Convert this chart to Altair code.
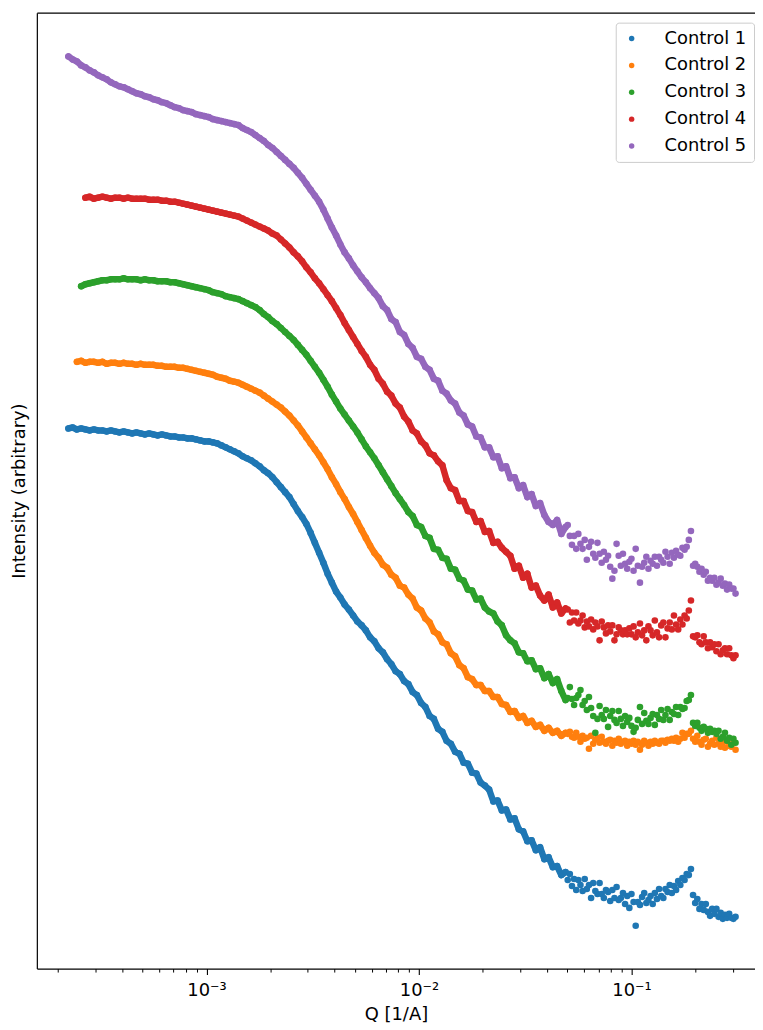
import sys
import altair as alt
import pandas as pd

series_names = ["Control 1", "Control 2", "Control 3", "Control 4", "Control 5"]
series_colors = ["#1f77b4", "#ff7f0e", "#2ca02c", "#d62728", "#9467bd"]

log10_q = [
    -3.65, -3.63, -3.61, -3.59, -3.57, -3.55, -3.53, -3.51, -3.49, -3.47,
    -3.45, -3.43, -3.41, -3.39, -3.37, -3.35, -3.33, -3.31, -3.29, -3.27,
    -3.25, -3.23, -3.21, -3.19, -3.17, -3.15, -3.13, -3.11, -3.09, -3.07,
    -3.05, -3.03, -3.01, -2.99, -2.97, -2.95, -2.93, -2.91, -2.89, -2.87,
    -2.85, -2.83, -2.81, -2.79, -2.77, -2.75, -2.73, -2.71, -2.69, -2.67,
    -2.65, -2.63, -2.61, -2.59, -2.57, -2.55, -2.53, -2.51, -2.49, -2.47,
    -2.45, -2.43, -2.41, -2.39, -2.37, -2.35, -2.33, -2.31, -2.29, -2.27,
    -2.25, -2.23, -2.21, -2.19, -2.17, -2.15, -2.13, -2.11, -2.09, -2.07,
    -2.05, -2.03, -2.01, -1.99, -1.97, -1.95, -1.93, -1.91, -1.89, -1.87,
    -1.85, -1.83, -1.81, -1.79, -1.77, -1.75, -1.73, -1.71, -1.69, -1.67,
    -1.65, -1.63, -1.61, -1.59, -1.57, -1.55, -1.53, -1.51, -1.49, -1.47,
    -1.45, -1.43, -1.41, -1.39, -1.37, -1.35, -1.33, -1.31,
    -1.30, -1.29, -1.28, -1.27, -1.26, -1.25, -1.24, -1.23, -1.22, -1.21,
    -1.20, -1.19, -1.18, -1.17, -1.16, -1.15, -1.14, -1.13, -1.12, -1.11,
    -1.10, -1.09, -1.08, -1.07, -1.06, -1.05, -1.04, -1.03, -1.02, -1.01,
    -1.00, -0.99, -0.98, -0.97, -0.96, -0.95, -0.94, -0.93, -0.92, -0.91,
    -0.90, -0.89, -0.88, -0.87, -0.86, -0.85, -0.84, -0.83, -0.82, -0.81,
    -0.80, -0.79, -0.78, -0.77, -0.76, -0.75, -0.74, -0.73, -0.72, -0.71,
    -0.70, -0.69, -0.68, -0.67, -0.66, -0.65, -0.64, -0.63, -0.62, -0.61,
    -0.60, -0.59, -0.58, -0.57, -0.56, -0.55, -0.54, -0.53, -0.52, -0.51,
]

# index into log10_q where each series begins
series_start = [0, 2, 3, 4, 0]

# log10 of intensity (arbitrary units)
control1_log10_i = [
    5.70, 5.71, 5.69, 5.70, 5.69, 5.68, 5.69, 5.68, 5.68, 5.67,
    5.68, 5.67, 5.66, 5.67, 5.66, 5.65, 5.66, 5.65, 5.64, 5.65,
    5.64, 5.63, 5.64, 5.63, 5.62, 5.62, 5.61, 5.61, 5.60, 5.60,
    5.59, 5.58, 5.57, 5.57, 5.56, 5.55,
    5.53, 5.51, 5.49, 5.47, 5.45, 5.42, 5.40, 5.38, 5.35, 5.32,
    5.28, 5.25, 5.21, 5.16, 5.11, 5.06, 5.01, 4.94, 4.87, 4.81,
    4.74, 4.65, 4.55, 4.45, 4.35, 4.24, 4.15, 4.06, 4.00, 3.93,
    3.88, 3.82, 3.76, 3.72, 3.67, 3.60, 3.56, 3.49, 3.45, 3.38,
    3.33, 3.26, 3.23, 3.16, 3.13, 3.05, 3.02, 2.94, 2.90, 2.81,
    2.78, 2.68, 2.65, 2.56, 2.53, 2.45, 2.43, 2.34, 2.33, 2.24,
    2.23, 2.14, 2.11, 2.07, 1.95, 1.96, 1.86, 1.87, 1.77, 1.78,
    1.67, 1.65, 1.55, 1.56, 1.46, 1.49, 1.37, 1.39, 1.29, 1.30,
    1.21, 1.24,
    1.16, 1.22, 1.10, 1.17, 1.06, 1.16, 1.11, 1.05, 1.17, 1.07,
    1.11, 0.98, 1.13, 1.05, 1.02, 1.13, 1.02, 0.98, 1.06, 1.04,
    0.95, 1.06, 0.98, 1.09, 0.96, 0.98, 1.03, 0.92, 1.00, 0.88,
    1.02, 0.94, 0.70, 0.94, 0.91, 0.99, 1.03, 0.93, 0.96, 1.00,
    0.92, 1.03, 0.97, 1.07, 1.00, 0.98, 1.07, 1.04, 1.11, 1.03,
    1.10, 1.06, 1.15, 1.11, 1.18, 1.16, 1.22, 1.21, 1.27, 1.01,
    0.93, 0.97, 0.87, 0.92, 0.86, 0.92, 0.84, 0.80, 0.87, 0.82,
    0.87, 0.79, 0.83, 0.77, 0.81, 0.78, 0.82, 0.78, 0.77, 0.79,
]

control2_log10_i = [
    6.37, 6.38, 6.36, 6.37, 6.37, 6.36, 6.37, 6.35, 6.36, 6.36,
    6.35, 6.36, 6.35, 6.35, 6.34, 6.35, 6.34, 6.34, 6.34, 6.33,
    6.33, 6.32, 6.32, 6.32, 6.31, 6.31, 6.30, 6.29, 6.28, 6.27,
    6.26, 6.25, 6.24, 6.22, 6.21, 6.20, 6.18, 6.17, 6.16, 6.14,
    6.12, 6.10, 6.08, 6.06, 6.03, 6.00, 5.97, 5.94, 5.91, 5.87,
    5.83, 5.78, 5.73, 5.67, 5.61, 5.55, 5.49, 5.43, 5.36, 5.29,
    5.21, 5.14, 5.06, 4.99, 4.91, 4.84, 4.76, 4.68, 4.60, 4.52,
    4.45, 4.40, 4.33, 4.30, 4.23, 4.20, 4.12, 4.10, 4.03, 3.99,
    3.90, 3.87, 3.79, 3.75, 3.66, 3.63, 3.55, 3.53, 3.44, 3.41,
    3.32, 3.29, 3.20, 3.18, 3.12, 3.12, 3.06, 3.06, 3.00, 3.00,
    2.93, 2.92, 2.85, 2.86, 2.79, 2.81, 2.74, 2.76, 2.70, 2.72,
    2.66, 2.69, 2.64, 2.66, 2.61, 2.64,
    2.63, 2.65, 2.60, 2.59, 2.64, 2.60, 2.55, 2.61, 2.58, 2.59,
    2.48, 2.61, 2.53, 2.57, 2.59, 2.54, 2.60, 2.55, 2.53, 2.56,
    2.57, 2.51, 2.56, 2.54, 2.58, 2.53, 2.55, 2.56, 2.51, 2.55,
    2.53, 2.56, 2.52, 2.55, 2.47, 2.52, 2.56, 2.54, 2.51, 2.55,
    2.53, 2.56, 2.54, 2.53, 2.56, 2.56, 2.54, 2.57, 2.56, 2.58,
    2.56, 2.59, 2.55, 2.58, 2.64, 2.59, 2.63, 2.63, 2.66, 2.58,
    2.55, 2.61, 2.55, 2.52, 2.57, 2.58, 2.50, 2.53, 2.56, 2.52,
    2.59, 2.53, 2.50, 2.54, 2.49, 2.56, 2.51, 2.50, 2.54, 2.47,
]

control3_log10_i = [
    7.13, 7.15, 7.16, 7.17, 7.18, 7.19, 7.19, 7.20, 7.20, 7.20,
    7.21, 7.20, 7.20, 7.20, 7.19, 7.20, 7.19, 7.19, 7.18, 7.18,
    7.18, 7.17, 7.17, 7.16, 7.15, 7.14, 7.13, 7.12, 7.11, 7.10,
    7.09, 7.07, 7.06, 7.05, 7.03, 7.02, 7.01, 7.00, 6.98, 6.96,
    6.94, 6.92, 6.89, 6.85, 6.82, 6.78, 6.75, 6.71, 6.67, 6.63,
    6.59, 6.54, 6.49, 6.44, 6.38, 6.32, 6.26, 6.19, 6.12, 6.04,
    5.97, 5.90, 5.84, 5.78, 5.72, 5.66, 5.59, 5.52, 5.46, 5.40,
    5.33, 5.26, 5.19, 5.12, 5.05, 4.99, 4.93,
    4.86, 4.82, 4.73, 4.71, 4.62, 4.60, 4.49, 4.48, 4.40, 4.39,
    4.29, 4.28, 4.19, 4.17, 4.08, 4.07,
    3.98, 3.99, 3.90, 3.86, 3.84, 3.76, 3.72, 3.62, 3.57, 3.54,
    3.45, 3.44, 3.36, 3.37, 3.28, 3.29, 3.19, 3.23, 3.14, 3.18,
    3.06, 2.97,
    2.99, 3.10, 2.98, 2.92, 2.99, 3.02, 3.07, 2.92, 2.96, 2.87,
    3.00, 2.89, 2.81, 2.64, 2.78, 2.91, 2.82, 2.78, 2.87, 2.70,
    2.81, 2.86, 2.77, 2.74, 2.86, 2.78, 2.71, 2.81, 2.75, 2.79,
    2.71, 2.65, 2.69, 2.77, 2.90, 2.73, 2.84, 2.76, 2.73, 2.79,
    2.83, 2.72, 2.82, 2.78, 2.87, 2.77, 2.82, 2.88, 2.77, 2.85,
    2.83, 2.90, 2.82, 2.90, 2.88, 2.89, 2.96, 2.97, 3.02, 2.74,
    2.71, 2.74, 2.69, 2.66, 2.70, 2.68, 2.64, 2.68, 2.65, 2.66,
    2.63, 2.66, 2.58, 2.60, 2.64, 2.56, 2.59, 2.52, 2.58, 2.54,
]

control4_log10_i = [
    8.02, 8.03, 8.01, 8.02, 8.03, 8.02, 8.01, 8.02, 8.02, 8.01,
    8.02, 8.01, 8.01, 8.01, 8.01, 8.00, 8.00, 8.00, 7.99, 7.99,
    7.98, 7.98, 7.97, 7.96, 7.95, 7.94, 7.93, 7.92, 7.91, 7.90,
    7.89, 7.88, 7.87, 7.86, 7.85, 7.84, 7.83, 7.81, 7.79, 7.77,
    7.75, 7.73, 7.71, 7.69, 7.66, 7.64, 7.60, 7.56, 7.52, 7.47,
    7.43, 7.38, 7.32, 7.27, 7.21, 7.16, 7.10, 7.04, 6.98, 6.91,
    6.84, 6.76, 6.69, 6.62, 6.55, 6.48, 6.42, 6.34, 6.29, 6.20,
    6.15, 6.07, 6.03, 5.95, 5.91, 5.82, 5.77, 5.68, 5.65, 5.57,
    5.53, 5.45, 5.43, 5.37, 5.33, 5.18, 5.10, 5.08, 4.97, 4.97,
    4.87, 4.86, 4.76, 4.77, 4.66, 4.67, 4.55, 4.56, 4.50, 4.46,
    4.42, 4.29, 4.32, 4.20, 4.24, 4.10, 4.12, 4.02, 3.97, 4.03,
    3.90, 3.95, 3.84, 3.89,
    3.88, 3.75, 3.85, 3.77, 3.85, 3.74, 3.77, 3.82, 3.70, 3.76,
    3.71, 3.78, 3.68, 3.75, 3.71, 3.57, 3.76, 3.70, 3.64, 3.72,
    3.66, 3.72, 3.57, 3.63, 3.70, 3.67, 3.63, 3.67, 3.63, 3.69,
    3.63, 3.71, 3.60, 3.65, 3.74, 3.62, 3.67, 3.57, 3.71, 3.67,
    3.62, 3.77, 3.65, 3.60, 3.72, 3.75, 3.60, 3.69, 3.75, 3.68,
    3.82, 3.73, 3.68, 3.78, 3.73, 3.82, 3.79, 3.87, 3.97, 3.61,
    3.60, 3.62, 3.55, 3.53, 3.61, 3.55, 3.49, 3.55, 3.50, 3.53,
    3.46, 3.53, 3.43, 3.47, 3.49, 3.43, 3.49, 3.42, 3.39, 3.42,
]

control5_log10_i = [
    9.44, 9.41, 9.39, 9.35, 9.33, 9.30, 9.28, 9.25, 9.23, 9.21,
    9.18, 9.16, 9.14, 9.13, 9.11, 9.09, 9.07, 9.06, 9.04, 9.03,
    9.01, 9.00, 8.98, 8.97, 8.95, 8.93, 8.92, 8.90, 8.89, 8.88,
    8.86, 8.85, 8.84, 8.83, 8.81, 8.80, 8.79, 8.78, 8.77, 8.76,
    8.75, 8.72, 8.70, 8.68, 8.65, 8.62, 8.59, 8.55, 8.52, 8.48,
    8.44, 8.40, 8.36, 8.32, 8.27, 8.22, 8.16, 8.10, 8.04, 7.98,
    7.90, 7.81, 7.72, 7.64, 7.55, 7.47, 7.41, 7.34, 7.28, 7.22,
    7.17, 7.11, 7.06, 7.01, 6.93, 6.89, 6.80, 6.77, 6.67, 6.64,
    6.55, 6.51, 6.42, 6.40, 6.32, 6.29, 6.20, 6.18, 6.08, 6.05,
    5.98, 5.95, 5.86, 5.83, 5.74, 5.72, 5.62, 5.61, 5.51, 5.51,
    5.41, 5.42, 5.30, 5.32, 5.20, 5.21, 5.10, 5.13, 5.01, 5.04,
    4.92, 4.95, 4.83, 4.76, 4.73, 4.78, 4.64, 4.71,
    4.73, 4.62, 4.53, 4.62, 4.49, 4.64, 4.54, 4.49, 4.58, 4.38,
    4.51, 4.56, 4.44, 4.40, 4.55, 4.44, 4.35, 4.46, 4.38, 4.42,
    4.31, 4.19, 4.27, 4.54, 4.42, 4.32, 4.44, 4.34, 4.29, 4.36,
    4.39, 4.27, 4.49, 4.32, 4.15, 4.31, 4.35, 4.41, 4.29, 4.37,
    4.34, 4.41, 4.32, 4.41, 4.38, 4.35, 4.46, 4.41, 4.34, 4.45,
    4.40, 4.47, 4.43, 4.42, 4.50, 4.48, 4.51, 4.58, 4.67, 4.32,
    4.34, 4.31, 4.26, 4.29, 4.23, 4.26, 4.17, 4.20, 4.17, 4.20,
    4.13, 4.15, 4.19, 4.12, 4.14, 4.08, 4.13, 4.09, 4.09, 4.04,
]

all_series = [control1_log10_i, control2_log10_i, control3_log10_i,
              control4_log10_i, control5_log10_i]

x_major_ticks = [0.001, 0.01, 0.1]
x_minor_ticks = [
    0.0002, 0.0003, 0.0004, 0.0005, 0.0006, 0.0007, 0.0008, 0.0009,
    0.002, 0.003, 0.004, 0.005, 0.006, 0.007, 0.008, 0.009,
    0.02, 0.03, 0.04, 0.05, 0.06, 0.07, 0.08, 0.09,
    0.2, 0.3,
]

rows = []
for name, start, vals in zip(series_names, series_start, all_series):
    qs = log10_q[start:]
    if len(qs) != len(vals):
        print(f"{name}: {len(qs)} q vs {len(vals)} values", file=sys.stderr)
    for lq, li in zip(qs, vals):
        rows.append({"series": name, "q": 10 ** lq, "intensity": 10 ** li})
df = pd.DataFrame(rows)

FONT = "DejaVu Sans"
x_domain = [10 ** -3.7986, 10 ** -0.4185]
y_domain = [10 ** 0.27, 10 ** 9.88]
x_scale = alt.Scale(type="log", domain=x_domain, nice=False)
y_scale = alt.Scale(type="log", domain=y_domain, nice=False)
color_scale = alt.Scale(domain=series_names, range=series_colors)

# thick band underneath the denser low-Q part of each series, so the many
# overlapping points read as one continuous trace (one layer per series)
bands = []
for name, col in zip(series_names, series_colors):
    bands.append(
        alt.Chart(df)
        .transform_filter((alt.datum.series == name) & (alt.datum.q < 0.049))
        .mark_line(color=col, strokeWidth=6.5, strokeCap="round", strokeJoin="round")
        .encode(
            x=alt.X("q:Q", scale=x_scale, axis=None),
            y=alt.Y("intensity:Q", scale=y_scale, axis=None),
        )
    )

points = alt.Chart(df).mark_circle(size=44, opacity=1).encode(
    x=alt.X("q:Q", scale=x_scale, axis=alt.Axis(
        orient="bottom", values=x_major_ticks,
        labelExpr="datum.value < 0.005 ? '10⁻³' : (datum.value < 0.05 ? '10⁻²' : '10⁻¹')",
        tickSize=6, tickWidth=1.1, tickColor="#000000",
        labelFont=FONT, labelFontSize=18, labelColor="#000000", labelPadding=7,
        title="Q [1/A]", titleFont=FONT, titleFontSize=18, titleFontWeight="normal",
        titleColor="#000000", titlePadding=6,
        grid=False, domainColor="#000000", domainWidth=1.2)),
    y=alt.Y("intensity:Q", scale=y_scale,
            axis=alt.Axis(orient="left", title="Intensity (arbitrary)", labels=False,
                          ticks=False, grid=False,
                          domainColor="#000000", domainWidth=1.2, titleFont=FONT,
                          titleFontSize=18, titleFontWeight="normal", titleColor="#000000",
                          titlePadding=8, minExtent=0)),
    color=alt.Color("series:N", scale=color_scale,
                    legend=alt.Legend(title=None, orient="none", legendX=582, legendY=10,
                                      padding=7, strokeColor="#cccccc",
                                      fillColor="rgba(255,255,255,0.8)", cornerRadius=3,
                                      labelFont=FONT, labelFontSize=18, labelColor="#000000",
                                      symbolType="circle", symbolSize=30, symbolOpacity=1,
                                      labelOffset=24, rowPadding=9)),
)

minor = alt.Chart(df).mark_point(opacity=0).encode(
    x=alt.X("q:Q", scale=x_scale, axis=alt.Axis(
        orient="bottom", values=x_minor_ticks, labels=False, tickSize=3.5, tickWidth=1,
        tickColor="#000000", title=None, domain=False, grid=False)),
)

top_spine = alt.Chart(df).mark_point(opacity=0).encode(
    x=alt.X("q:Q", scale=x_scale, axis=alt.Axis(
        orient="top", labels=False, ticks=False, title=None, domain=True,
        domainColor="#000000", domainWidth=1.2, grid=False, minExtent=0)),
)

chart = alt.layer(*bands, points, minor, top_spine).resolve_axis(
    x="independent", y="independent"
).properties(
    width=722, height=961,
    padding={"left": 3, "top": 2, "right": 0, "bottom": 0},
    background="white",
).configure_view(stroke=None, strokeWidth=0)

chart.save("out.html", embed_options={"renderer": "svg", "actions": False})
